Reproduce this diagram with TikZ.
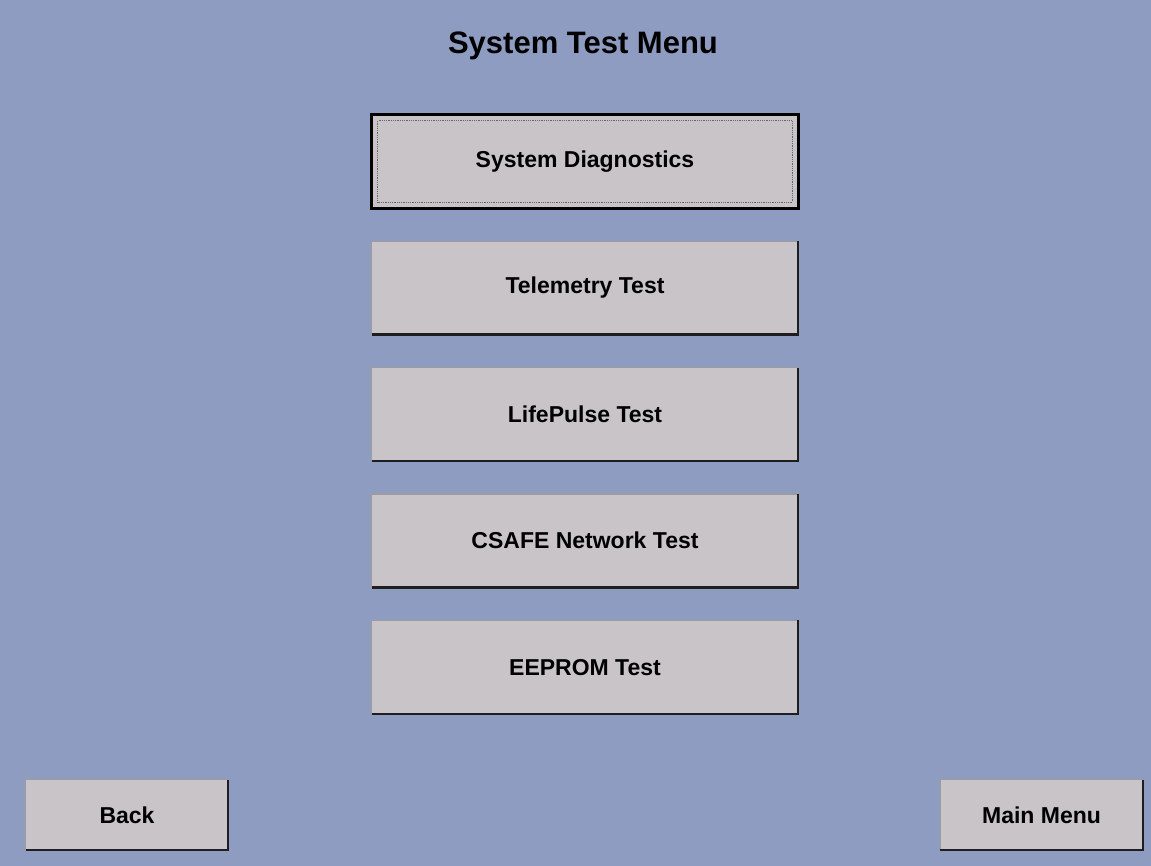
\documentclass[tikz,border=0pt]{standalone}
\usepackage{fontspec}
\setmainfont{Liberation Sans}
\usetikzlibrary{positioning}
\definecolor{ScreenBlue}{HTML}{8E9CC1}
\definecolor{ButtonGray}{HTML}{C8C4C8}
\definecolor{EdgeLight}{HTML}{9C9C9C}
\definecolor{EdgeDark}{HTML}{1E1E1E}

\tikzset{
  menubtn/.style={fill=ButtonGray, inner sep=0pt, minimum width=426pt,
    minimum height=93pt, font=\bfseries\fontsize{23}{27}\selectfont},
  smallbtn/.style={menubtn, minimum width=202pt, minimum height=70pt},
  edgelight/.style={EdgeLight, line width=1.2pt},
  edgedark/.style={EdgeDark, line width=2.2pt},
}

\begin{document}
\begin{tikzpicture}[x=1pt, y=-1pt, node distance=33pt]
    % Screen background
    \fill[ScreenBlue] (0,0) rectangle (1151,866);
    \useasboundingbox (0,0) rectangle (1151,866);

    % Title
    \node[anchor=base, font=\bfseries\fontsize{31}{35}\selectfont] (title)
      at (583,54) {System Test Menu};

    % Menu column
    \node[menubtn] (sysdiag) at (585,161.5) {System Diagnostics};
    \node[menubtn, below=of sysdiag] (telem) {Telemetry Test};
    \node[menubtn, below=of telem] (lifepulse) {LifePulse Test};
    \node[menubtn, below=of lifepulse] (csafe) {CSAFE Network Test};
    \node[menubtn, below=of csafe] (eeprom) {EEPROM Test};

    % Bottom row
    \node[smallbtn] (back) at (127,815) {Back};
    \node[smallbtn] (mainmenu) at (1041.5,815) {Main Menu};

    % Raised edges
    \foreach \b in {sysdiag, telem, lifepulse, csafe, eeprom, back, mainmenu}{
      \draw[edgelight] (\b.south west) -- (\b.north west) -- (\b.north east);
      \draw[edgedark] (\b.north east) -- (\b.south east) -- (\b.south west);
    }

    % Focus frame on the first entry
    \draw[black, line width=3pt] (sysdiag.north west) rectangle (sysdiag.south east);
    \draw[black!60, densely dotted, line width=0.8pt]
      ([shift={(6pt,-6pt)}]sysdiag.north west)
      rectangle ([shift={(-6pt,6pt)}]sysdiag.south east);
  \end{tikzpicture}
\end{document}
